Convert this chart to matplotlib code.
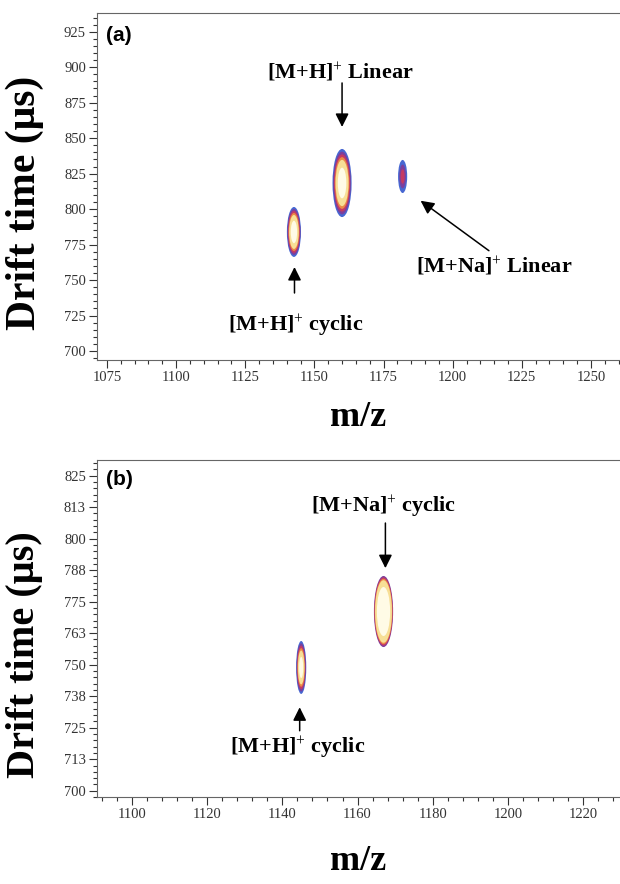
import matplotlib
matplotlib.use('Agg')
import matplotlib.pyplot as plt
from matplotlib.patches import Ellipse
from matplotlib.ticker import MultipleLocator, FixedLocator

plt.rcParams['font.family'] = ['Liberation Serif', 'DejaVu Serif']
plt.rcParams['mathtext.fontset'] = 'custom'
plt.rcParams['mathtext.rm'] = 'Liberation Serif'
plt.rcParams['mathtext.it'] = 'Liberation Serif:italic'
plt.rcParams['mathtext.bf'] = 'Liberation Serif:bold'

# ~ DATA ~
# panel (a): peak centre (m/z, drift time), peak extent, contour levels reached
a_mz = [1142.6, 1160.0, 1181.9]
a_dt = [783.9, 818.4, 823.0]
a_width = [5.1, 6.9, 3.3]
a_height = [35.2, 48.0, 23.3]
a_levels = [(0, 6), (0, 6), (0, 3)]
a_xticks = [1075, 1100, 1125, 1150, 1175, 1200, 1225, 1250]
a_yticks = [700, 725, 750, 775, 800, 825, 850, 875, 900, 925]

# panel (b)
b_mz = [1145.0, 1166.9]
b_dt = [748.9, 771.1]
b_width = [2.7, 5.1]
b_height = [21.0, 28.2]
b_levels = [(0, 6), (1, 6)]
b_xticks = [1100, 1120, 1140, 1160, 1180, 1200, 1220]
b_yticks = [700, 712.5, 725, 737.5, 750, 762.5, 775, 787.5, 800, 812.5, 825]
b_ytick_labels = ['700', '713', '725', '738', '750', '763', '775', '788', '800', '813', '825']

# contour colours from the outermost (lowest) level to the innermost
ring_colors = ['#4767d2', '#7c3f9c', '#c43a64', '#ea8a46', '#f7df96', '#fffbe6']

TICK_COLOR = '#333333'
SPINE_COLOR = '#666666'


def draw_peaks(ax, mz, dt, width, height, levels, rims):
    for x, y, w, h, (lo, hi), r in zip(mz, dt, width, height, levels, rims):
        for k in range(lo, hi):
            s = 1.0 - (k - lo) * r
            # the innermost level fills most of a strong peak
            if k == hi - 1 and hi - lo > 3:
                s -= 0.15
            ax.add_patch(Ellipse((x, y), w * s, h * s, facecolor=ring_colors[k],
                                 edgecolor='none', zorder=2 + k))


def style_axes(ax, xlim, ylim, x_major, x_minor, y_major, y_minor):
    ax.set_xlim(*xlim)
    ax.set_ylim(*ylim)
    ax.xaxis.set_major_locator(FixedLocator(x_major))
    ax.xaxis.set_minor_locator(MultipleLocator(x_minor))
    ax.yaxis.set_major_locator(FixedLocator(y_major))
    ax.yaxis.set_minor_locator(MultipleLocator(y_minor))
    ax.tick_params(which='both', direction='out', color=TICK_COLOR, labelcolor=TICK_COLOR,
                   labelsize=10.5, width=0.8, top=False, right=False)
    ax.tick_params(which='major', length=6, pad=2)
    ax.tick_params(which='minor', length=3)
    for side in ['left', 'bottom', 'top']:
        ax.spines[side].set_color(SPINE_COLOR)
        ax.spines[side].set_linewidth(0.8)
    ax.spines['right'].set_visible(False)


def arrow(ax, tip, tail):
    ax.annotate('', xy=tip, xytext=tail,
                arrowprops=dict(arrowstyle='-|>', color='black', lw=1.1,
                                mutation_scale=20, shrinkA=0, shrinkB=0))


fig = plt.figure(figsize=(6.2, 8.84), dpi=100)
fig.patch.set_facecolor('white')

label_kw = dict(fontsize=16, fontweight='bold', ha='center', va='center')

# ~ PANEL (a) ~
ax_a = fig.add_axes([0.1565, 0.5928, 0.8435, 0.3925])
style_axes(ax_a, (1071.4, 1260.5), (693.7, 938.2), a_xticks, 5, a_yticks, 5)
draw_peaks(ax_a, a_mz, a_dt, a_width, a_height, a_levels, [0.08, 0.08, 0.28])
ax_a.text(0.018, 0.934, '(a)', transform=ax_a.transAxes, family='Liberation Sans',
          fontsize=15, fontweight='bold', ha='left', va='center')

ax_a.text(1159.5, 896.1, r'[M+H]$^{+}$ Linear', **label_kw)
arrow(ax_a, (1160.0, 857.9), (1160.0, 888.9))
ax_a.text(1143.2, 717.6, r'[M+H]$^{+}$ cyclic', **label_kw)
arrow(ax_a, (1142.8, 759.2), (1142.8, 740.9))
ax_a.text(1215.0, 759.4, r'[M+Na]$^{+}$ Linear', **label_kw)
arrow(ax_a, (1188.4, 805.9), (1213.1, 770.7))

# ~ PANEL (b) ~
ax_b = fig.add_axes([0.1565, 0.0984, 0.8435, 0.3812])
style_axes(ax_b, (1090.7, 1229.8), (697.5, 831.2), b_xticks, 4, b_yticks, 2.5)
ax_b.set_yticklabels(b_ytick_labels)
draw_peaks(ax_b, b_mz, b_dt, b_width, b_height, b_levels, [0.09, 0.04])
ax_b.text(0.018, 0.941, '(b)', transform=ax_b.transAxes, family='Liberation Sans',
          fontsize=15, fontweight='bold', ha='left', va='center')

ax_b.text(1166.9, 812.5, r'[M+Na]$^{+}$ cyclic', **label_kw)
arrow(ax_b, (1167.4, 788.3), (1167.4, 806.2))
ax_b.text(1144.1, 716.8, r'[M+H]$^{+}$ cyclic', **label_kw)
arrow(ax_b, (1144.6, 733.1), (1144.6, 723.8))

# axis titles
fig.text(25 / 620, 1 - 203 / 884, 'Drift time (\u03bcs)', rotation=90,
         fontsize=30, fontweight='bold', ha='center', va='center')
fig.text(25 / 620, 1 - 655 / 884, 'Drift time (\u03bcs)', rotation=90,
         fontsize=29, fontweight='bold', ha='center', va='center')
fig.text(358 / 620, 1 - 418 / 884, 'm/z', fontsize=26, fontweight='bold',
         ha='center', va='center')
fig.text(358 / 620, 1 - 862 / 884, 'm/z', fontsize=26, fontweight='bold',
         ha='center', va='center')

fig.savefig('out.png', dpi=100, facecolor='white')
